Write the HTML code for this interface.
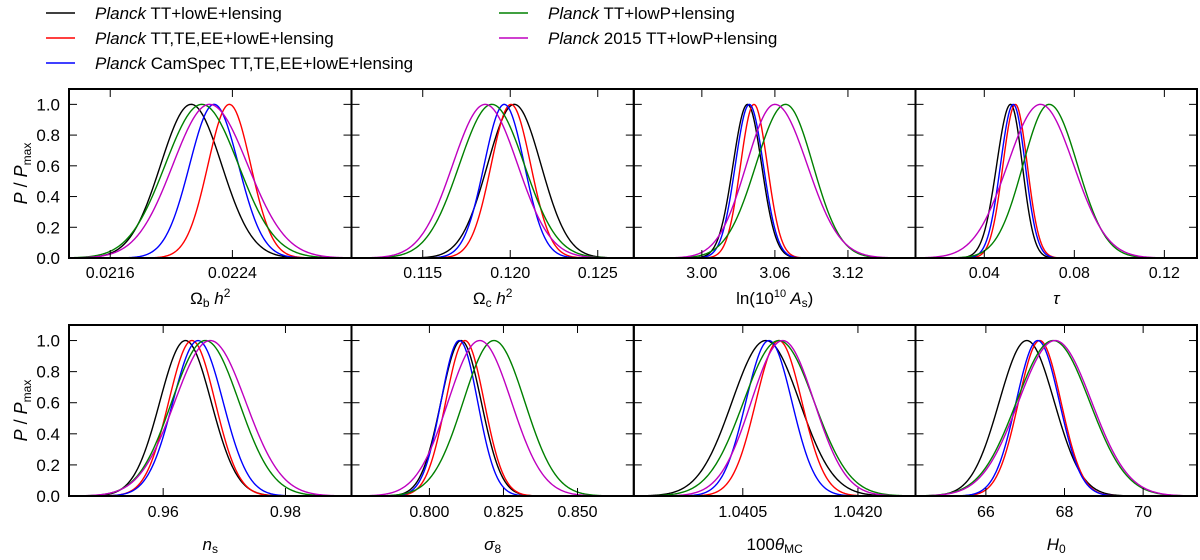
<!DOCTYPE html>
<html><head><meta charset="utf-8">
<style>
html,body{margin:0;padding:0;background:#fff;}
body{width:1200px;height:555px;overflow:hidden;font-family:"Liberation Sans","DejaVu Sans",sans-serif;}
svg text{font-family:"Liberation Sans","DejaVu Sans",sans-serif;fill:#000;}
</style></head>
<body>
<svg id="chart" width="1200" height="555" viewBox="0 0 1200 555" xmlns="http://www.w3.org/2000/svg">
  <g id="legend"></g>
  <g id="panels"></g>
</svg>
<script>
// ---- data ----
const seriesNames = ["TT+lowE+lensing","TT,TE,EE+lowE+lensing","CamSpec TT,TE,EE+lowE+lensing","TT+lowP+lensing","2015 TT+lowP+lensing"];
const seriesColors = ["#000000","#ff0000","#0000ff","#008000","#bf00bf"];
const paramNames = ["omegab","omegac","lnAs","tau","ns","sigma8","theta","H0"];

// peak positions per series (black, red, blue, green, magenta)
const omegabPeaks = [0.02213,0.02238,0.02228,0.02220,0.02225];
const omegabSigL  = [0.00020,0.00014,0.00016,0.00024,0.00024];
const omegabSigR  = [0.00020,0.00014,0.00016,0.00024,0.00025];

const omegacPeaks = [0.12023,0.12004,0.11966,0.11895,0.11857];
const omegacSigL  = [0.00153,0.00113,0.00115,0.00186,0.00186];
const omegacSigR  = [0.00153,0.00113,0.00115,0.00186,0.00186];

const lnAsPeaks = [3.0375,3.0428,3.0390,3.0688,3.0600];
const lnAsSigL  = [0.0119,0.0110,0.0115,0.0244,0.0234];
const lnAsSigR  = [0.0116,0.0110,0.0115,0.0225,0.0266];

const tauPeaks = [0.0517,0.0538,0.0529,0.0688,0.0650];
const tauSigL  = [0.0062,0.0055,0.0057,0.0116,0.0147];
const tauSigR  = [0.0052,0.0053,0.0053,0.0126,0.0147];

const nsPeaks = [0.96365,0.9647,0.9657,0.9669,0.9677];
const nsSigL  = [0.0042,0.0038,0.0041,0.0055,0.0058];
const nsSigR  = [0.0042,0.0038,0.0041,0.0055,0.0058];

const sigma8Peaks = [0.8107,0.8120,0.8101,0.8218,0.8170];
const sigma8SigL  = [0.0068,0.0065,0.0062,0.0104,0.0107];
const sigma8SigR  = [0.0068,0.0065,0.0062,0.0104,0.0107];

const thetaPeaks = [1.04080,1.04097,1.04084,1.04097,1.04102];
const thetaSigL  = [0.00044,0.00030,0.00030,0.00046,0.00041];
const thetaSigR  = [0.00044,0.00030,0.00030,0.00046,0.00041];

const H0Peaks = [67.04,67.37,67.32,67.71,67.76];
const H0SigL  = [0.70,0.54,0.55,0.93,0.93];
const H0SigR  = [0.70,0.54,0.55,0.93,0.93];

const omegabTicks = ["0.0216","0.0224"];
const omegacTicks = ["0.115","0.120","0.125"];
const lnAsTicks = ["3.00","3.06","3.12"];
const tauTicks = ["0.04","0.08","0.12"];
const nsTicks = ["0.96","0.98"];
const sigma8Ticks = ["0.800","0.825","0.850"];
const thetaTicks = ["1.0405","1.0420"];
const H0Ticks = ["66","68","70"];
const yTicks = [0,0.2,0.4,0.6,0.8,1.0];

// ---- layout ----
const NS="http://www.w3.org/2000/svg";
function mk(tag,attrs,parent){const e=document.createElementNS(NS,tag);for(const k in attrs)e.setAttribute(k,attrs[k]);if(parent)parent.appendChild(e);return e;}

const colX=[69,351.5,633.8,915.5,1197];
const rows=[{top:89,bottom:258,lab:273,title:298},{top:325,bottom:496,lab:512,title:544}];
const panels=[
 {key:"omegab",row:0,col:0,min:0.02133,max:0.02318,peaks:omegabPeaks,sl:omegabSigL,sr:omegabSigR,ticks:omegabTicks,title:'Ω<tspan font-size="12" dy="3">b</tspan><tspan dy="-3" font-style="italic"> h</tspan><tspan font-size="12" dy="-7">2</tspan>'},
 {key:"omegac",row:0,col:1,min:0.11093,max:0.12706,peaks:omegacPeaks,sl:omegacSigL,sr:omegacSigR,ticks:omegacTicks,title:'Ω<tspan font-size="12" dy="3">c</tspan><tspan dy="-3" font-style="italic"> h</tspan><tspan font-size="12" dy="-7">2</tspan>'},
 {key:"lnAs",row:0,col:2,min:2.9441,max:3.1755,peaks:lnAsPeaks,sl:lnAsSigL,sr:lnAsSigR,ticks:lnAsTicks,title:'ln(10<tspan font-size="11" dy="-7">10</tspan><tspan dy="7" font-style="italic"> A</tspan><tspan font-size="12" dy="3">s</tspan><tspan dy="-3">)</tspan>'},
 {key:"tau",row:0,col:3,min:0.00944,max:0.1345,peaks:tauPeaks,sl:tauSigL,sr:tauSigR,ticks:tauTicks,title:'<tspan font-style="italic">τ</tspan>'},
 {key:"ns",row:1,col:0,min:0.9446,max:0.9908,peaks:nsPeaks,sl:nsSigL,sr:nsSigR,ticks:nsTicks,title:'<tspan font-style="italic">n</tspan><tspan font-size="12" dy="3">s</tspan>'},
 {key:"sigma8",row:1,col:1,min:0.7737,max:0.869,peaks:sigma8Peaks,sl:sigma8SigL,sr:sigma8SigR,ticks:sigma8Ticks,title:'<tspan font-style="italic">σ</tspan><tspan font-size="12" dy="3">8</tspan>'},
 {key:"theta",row:1,col:2,min:1.03908,max:1.04275,peaks:thetaPeaks,sl:thetaSigL,sr:thetaSigR,ticks:thetaTicks,title:'100<tspan font-style="italic">θ</tspan><tspan font-size="12" dy="3">MC</tspan>'},
 {key:"H0",row:1,col:3,min:64.21,max:71.37,peaks:H0Peaks,sl:H0SigL,sr:H0SigR,ticks:H0Ticks,title:'<tspan font-style="italic">H</tspan><tspan font-size="12" dy="3">0</tspan>'}
];

// legend
const leg=document.getElementById('legend');
const legPos=[[46,13],[46,38],[46,63],[499,13],[499,38]];
seriesNames.forEach((n,i)=>{
  const g=mk('g',{},leg);
  
  
  const [x,y]=legPos[i];
  mk('line',{x1:x,y1:y,x2:x+29,y2:y,stroke:seriesColors[i],'stroke-width':1.5},g);
  const t=mk('text',{x:x+49,y:y+6,'font-size':17},g);
  t.innerHTML='<tspan font-style="italic">Planck</tspan> '+n;
});

const pg=document.getElementById('panels');
panels.forEach(p=>{
  const r=rows[p.row];
  const x0=colX[p.col], x1=colX[p.col+1];
  const xs=v=>x0+(v-p.min)/(p.max-p.min)*(x1-x0);
  const ys=v=>r.bottom-v/1.1*(r.bottom-r.top);
  const g=mk('g',{},pg);
  
  
  const clipId='clip-'+p.key;
  const cp=mk('clipPath',{id:clipId},g);
  mk('rect',{x:x0,y:r.top,width:x1-x0,height:r.bottom-r.top},cp);
  // curves
  const cg=mk('g',{'clip-path':'url(#'+clipId+')'},g);
  p.peaks.forEach((m,i)=>{
    let d='';
    const N=300;
    for(let k=0;k<=N;k++){
      const v=p.min+(p.max-p.min)*k/N;
      const s=v<m?p.sl[i]:p.sr[i];
      const y=Math.exp(-0.5*((v-m)/s)**2);
      d+=(k?'L':'M')+xs(v).toFixed(2)+','+ys(y).toFixed(2);
    }
    const path=mk('path',{d:d,fill:'none',stroke:seriesColors[i],'stroke-width':1.4},cg);
    
    
  });
  // ticks
  const tk=mk('g',{stroke:'#000','stroke-width':1},g);
  yTicks.forEach(v=>{
    const y=ys(v);
    mk('line',{x1:x0,y1:y,x2:x0+8,y2:y},tk);
    mk('line',{x1:x1-8,y1:y,x2:x1,y2:y},tk);
    if(p.col===0){
      const t=mk('text',{x:x0-9,y:y+6,'font-size':17,'text-anchor':'end'},g);
      t.textContent=v.toFixed(1);
      
      
    }
  });
  p.ticks.forEach(s=>{
    const x=xs(parseFloat(s));
    mk('line',{x1:x,y1:r.bottom,x2:x,y2:r.bottom-8},tk);
    mk('line',{x1:x,y1:r.top,x2:x,y2:r.top+8},tk);
    const t=mk('text',{x:x,y:r.lab+5,'font-size':16,'text-anchor':'middle'},g);
    t.textContent=s;
    
    
  });
  mk('rect',{x:x0,y:r.top,width:x1-x0,height:r.bottom-r.top,fill:'none',stroke:'#000','stroke-width':2},g);
  const tt=mk('text',{x:(x0+x1)/2,y:r.title+6,'font-size':17,'text-anchor':'middle'},g);
  tt.innerHTML=p.title;
  
  
  if(p.col===0){
    const cy=(r.top+r.bottom)/2;
    const yl=mk('text',{x:0,y:0,'font-size':18,'text-anchor':'middle',transform:'translate(27,'+cy+') rotate(-90)'},g);
    yl.innerHTML='<tspan font-style="italic">P</tspan> / <tspan font-style="italic">P</tspan><tspan font-size="12" dy="4">max</tspan>';
    
    
  }
});
</script>
</body></html>
